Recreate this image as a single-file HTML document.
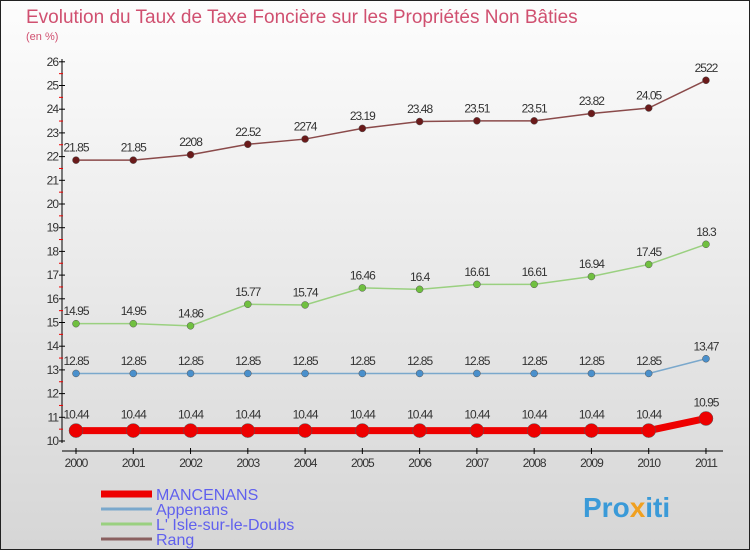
<!DOCTYPE html>
<html><head><meta charset="utf-8"><style>
body{margin:0}
#c{width:748px;height:548px;border:1px solid #222;background:linear-gradient(#fdfdfd,#d6d6d6);position:relative;font-family:"Liberation Sans",sans-serif;overflow:hidden}
svg text{font-family:"Liberation Sans",sans-serif}
</style></head><body>
<div id="c">
<svg id="s" width="748" height="548">
<text x="25" y="22" font-size="19" fill="#d05070">Evolution du Taux de Taxe Foncière sur les Propriétés Non Bâties</text>
<text x="25" y="39" font-size="11" fill="#d05070">(en %)</text>
<g id="axes"></g><g id="series"></g><g id="legend"></g>
<text x="582" y="516" font-size="28" font-weight="bold" fill="#3a9ad8">Pro<tspan fill="#f0a020">x</tspan>iti</text>
</svg></div>
<script>
const years=[2000,2001,2002,2003,2004,2005,2006,2007,2008,2009,2010,2011];
const yTicks=[10,11,12,13,14,15,16,17,18,19,20,21,22,23,24,25,26];
const mancenans=[10.44,10.44,10.44,10.44,10.44,10.44,10.44,10.44,10.44,10.44,10.44,10.95];
const appenans=[12.85,12.85,12.85,12.85,12.85,12.85,12.85,12.85,12.85,12.85,12.85,13.47];
const isle=[14.95,14.95,14.86,15.77,15.74,16.46,16.4,16.61,16.61,16.94,17.45,18.3];
const rang=[21.85,21.85,22.08,22.52,22.74,23.19,23.48,23.51,23.51,23.82,24.05,25.22];
const mLabels=["10.44","10.44","10.44","10.44","10.44","10.44","10.44","10.44","10.44","10.44","10.44","10.95"];
const aLabels=["12.85","12.85","12.85","12.85","12.85","12.85","12.85","12.85","12.85","12.85","12.85","13.47"];
const iLabels=["14.95","14.95","14.86","15.77","15.74","16.46","16.4","16.61","16.61","16.94","17.45","18.3"];
const rLabels=["21.85","21.85","2208","22.52","2274","23.19","23.48","23.51","23.51","23.82","24.05","2522"];
const NS="http://www.w3.org/2000/svg";
const X=i=>75+i*57.27, Y=v=>440-(v-10)*23.7;
function mk(p,t,a){const e=document.createElementNS(NS,t);for(const k in a)e.setAttribute(k,a[k]);p.appendChild(e);return e;}
const ax=document.getElementById('axes');
let e=mk(ax,'line',{x1:61,y1:58,x2:61,y2:442,stroke:'#000'});


yTicks.forEach(v=>{
 mk(ax,'line',{x1:58,x2:64,y1:Y(v),y2:Y(v),stroke:'#000'});
 if(v<26)mk(ax,'line',{x1:58,x2:62,y1:Y(v+0.5),y2:Y(v+0.5),stroke:'#e00'});
 const t=mk(ax,'text',{x:57,y:Y(v)+4,'font-size':12,'text-anchor':'end',fill:'#333','letter-spacing':'-1'});
 t.textContent=v;
 
 
});
e=mk(ax,'line',{x1:61,y1:450,x2:722,y2:450,stroke:'#000'});


years.forEach((y,i)=>{
 mk(ax,'line',{x1:X(i),x2:X(i),y1:447,y2:453,stroke:'#000'});
 const t=mk(ax,'text',{x:X(i),y:466,'font-size':12,'text-anchor':'middle',fill:'#333','letter-spacing':'-1'});
 t.textContent=y;
 
 
});
const sg=document.getElementById('series');
function series(vals,labs,col,dot,w,r,name){
 const g=mk(sg,'g',{});
 
 
 mk(g,'polyline',{points:vals.map((v,i)=>X(i)+','+Y(v)).join(' '),fill:'none',stroke:col,'stroke-width':w});
 vals.forEach((v,i)=>{
  const c=mk(g,'circle',{cx:X(i),cy:Y(v),r:r,fill:dot,stroke:'#555','stroke-width':0.5});
  
  
  const t=mk(g,'text',{x:X(i),y:Y(v)-(r+5),'font-size':12,'text-anchor':'middle',fill:'#333','letter-spacing':'-1'});
  t.textContent=labs[i];
  
  
 });
}
series(rang,rLabels,'#8a4a4a','#6a1a1a',1.5,3.5,'rang');
series(isle,iLabels,'#9ad080','#70c040',1.5,3.5,'isle-sur-le-doubs');
series(appenans,aLabels,'#7aa8cc','#4a90cc',1.5,3.5,'appenans');
series(mancenans,mLabels,'#ee0000','#ee0000',7,7,'mancenans');
const lg=document.getElementById('legend');
[['MANCENANS','#ee0000',7],['Appenans','#7aa8cc',3],["L' Isle-sur-le-Doubs",'#9ad080',3],['Rang','#8a6060',3]].forEach((d,i)=>{
 const yy=493+i*15;
 const g=mk(lg,'g',{});
 
 
 mk(g,'line',{x1:100,x2:151,y1:yy,y2:yy,stroke:d[1],'stroke-width':d[2]});
 const t=mk(g,'text',{x:155,y:yy+6,'font-size':16,fill:'#6060ee'});
 t.textContent=d[0];
});
</script></body></html>
